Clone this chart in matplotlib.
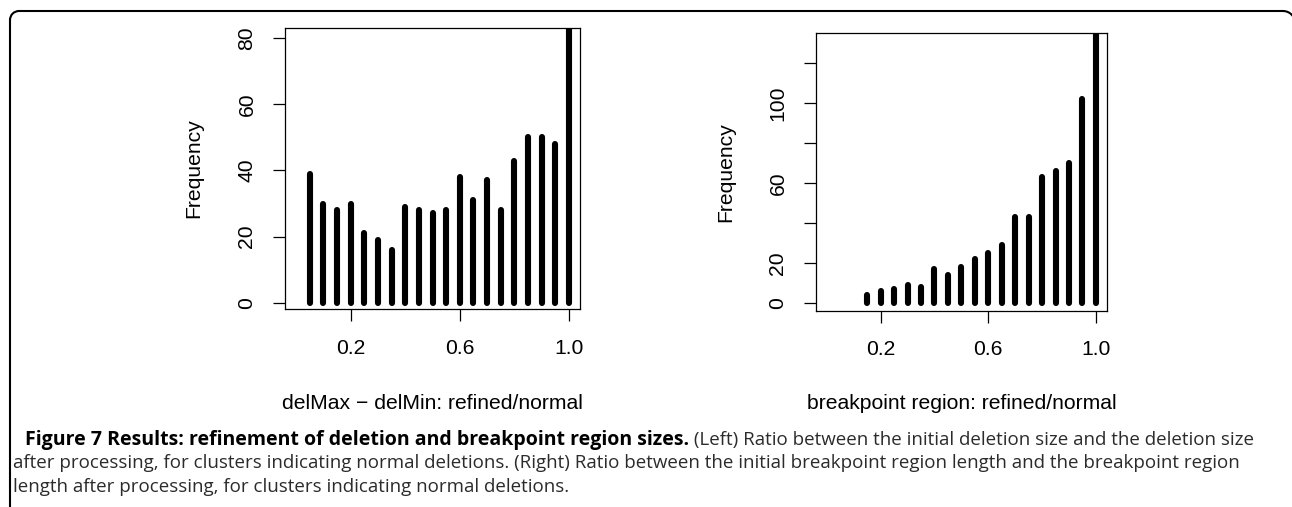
import matplotlib
matplotlib.use("Agg")
import matplotlib.pyplot as plt
from matplotlib.patches import Arc
from matplotlib.lines import Line2D

# --- data (bin midpoints, counts) ---
left_x = [0.05, 0.10, 0.15, 0.20, 0.25, 0.30, 0.35, 0.40, 0.45, 0.50,
          0.55, 0.60, 0.65, 0.70, 0.75, 0.80, 0.85, 0.90, 0.95, 1.00]
left_counts = [39, 30, 28, 30, 21, 19, 16, 29, 28, 27,
               28, 38, 31, 37, 28, 43, 50, 50, 48, 120]

right_x = [0.15, 0.20, 0.25, 0.30, 0.35, 0.40, 0.45, 0.50, 0.55,
           0.60, 0.65, 0.70, 0.75, 0.80, 0.85, 0.90, 0.95, 1.00]
right_counts = [4, 6, 7, 9, 8, 17, 14, 18, 22,
                25, 29, 43, 43, 63, 66, 70, 102, 180]

x_ticks = [0.2, 0.6, 1.0]
x_ticklabels = ["0.2", "0.6", "1.0"]
left_yticks = [0, 20, 40, 60, 80]
left_yticklabels = ["0", "20", "40", "60", "80"]
right_yticks = [0, 20, 40, 60, 80, 100, 120]
right_yticklabels = ["0", "20", "", "60", "", "100", ""]

left_xlabel = "delMax \u2212 delMin: refined/normal"
right_xlabel = "breakpoint region: refined/normal"

caption_bold = "Figure 7 Results: refinement of deletion and breakpoint region sizes."
caption_line1 = " (Left) Ratio between the initial deletion size and the deletion size"
caption_line2 = ("after processing, for clusters indicating normal deletions. (Right) Ratio between "
                 "the initial breakpoint region length and the breakpoint region")
caption_line3 = "length after processing, for clusters indicating normal deletions."

plt.rcParams["font.family"] = ["Liberation Sans", "DejaVu Sans"]

W, H = 1292, 507
fig = plt.figure(figsize=(W / 100, H / 100), dpi=100)


def hist_panel(rect, x, counts, ylim, yticks, yticklabels, xlabel, ylab_x, xlab_y):
    ax = fig.add_axes(rect)
    lc = ax.vlines(x, 0, counts, colors="black", linewidth=4.4)
    lc.set_capstyle("round")
    ax.set_xlim(-0.04, 1.04)
    ax.set_ylim(*ylim)
    ax.set_xticks(x_ticks, x_ticklabels)
    ax.set_yticks(yticks, yticklabels)
    for sp in ax.spines.values():
        sp.set_linewidth(0.9)
    ax.tick_params(direction="out", length=8.6, width=0.9, labelsize=15.2)
    ax.tick_params(axis="x", pad=12.5)
    ax.tick_params(axis="y", pad=12)
    for t in ax.get_yticklabels():
        t.set_rotation(90)
        t.set_verticalalignment("center")
    ax.set_ylabel("Frequency", fontsize=15.2)
    ax.yaxis.set_label_coords(ylab_x, 0.5)
    ax.set_xlabel(xlabel, fontsize=15.2)
    ax.xaxis.set_label_coords(0.5, xlab_y)
    return ax


ax1 = hist_panel([285 / W, 1 - 309.3 / H, 295 / W, 281.6 / H],
                 left_x, left_counts, (-2.0, 83.2),
                 left_yticks, left_yticklabels, left_xlabel, -0.278, -0.302)
ax2 = hist_panel([816 / W, 1 - 311 / H, 290.7 / W, 277.7 / H],
                 right_x, right_counts, (-4.2, 135.1),
                 right_yticks, right_yticklabels, right_xlabel, -0.279, -0.30)

# --- caption ---
cap_font = ["Open Sans", "DejaVu Sans"]
cap_color = "#2b2b2b"
bold = fig.text(25 / W, 1 - 445 / H, caption_bold, fontsize=14,
                family=cap_font, weight="bold", color="black", va="baseline")
renderer = fig.canvas.get_renderer()
bb = bold.get_window_extent(renderer)
fig.text(bb.x1 / fig.bbox.width, 1 - 445 / H, caption_line1, fontsize=13.5,
         family=cap_font, color=cap_color, va="baseline")
fig.text(13 / W, 1 - 468.5 / H, caption_line2, fontsize=13.5,
         family=cap_font, color=cap_color, va="baseline")
fig.text(13 / W, 1 - 492 / H, caption_line3, fontsize=13.5,
         family=cap_font, color=cap_color, va="baseline")

# --- frame: top edge with rounded corners, left edge running off the bottom ---
tr = fig.dpi_scale_trans
lw = 1.5
top, left = 4.96, 0.10
r_left, r_right, right = 0.09, 0.12, 12.95
fig.add_artist(Line2D([left + r_left, right - r_right], [top, top],
                      color="black", lw=lw, transform=tr))
fig.add_artist(Line2D([left, left], [top - r_left, -0.2],
                      color="black", lw=lw, transform=tr))
fig.add_artist(Arc((left + r_left, top - r_left), 2 * r_left, 2 * r_left,
                   theta1=90, theta2=180, color="black", lw=lw, transform=tr))
fig.add_artist(Arc((right - r_right, top - r_right), 2 * r_right, 2 * r_right,
                   theta1=0, theta2=90, color="black", lw=lw, transform=tr))

fig.savefig("out.png", dpi=100)
